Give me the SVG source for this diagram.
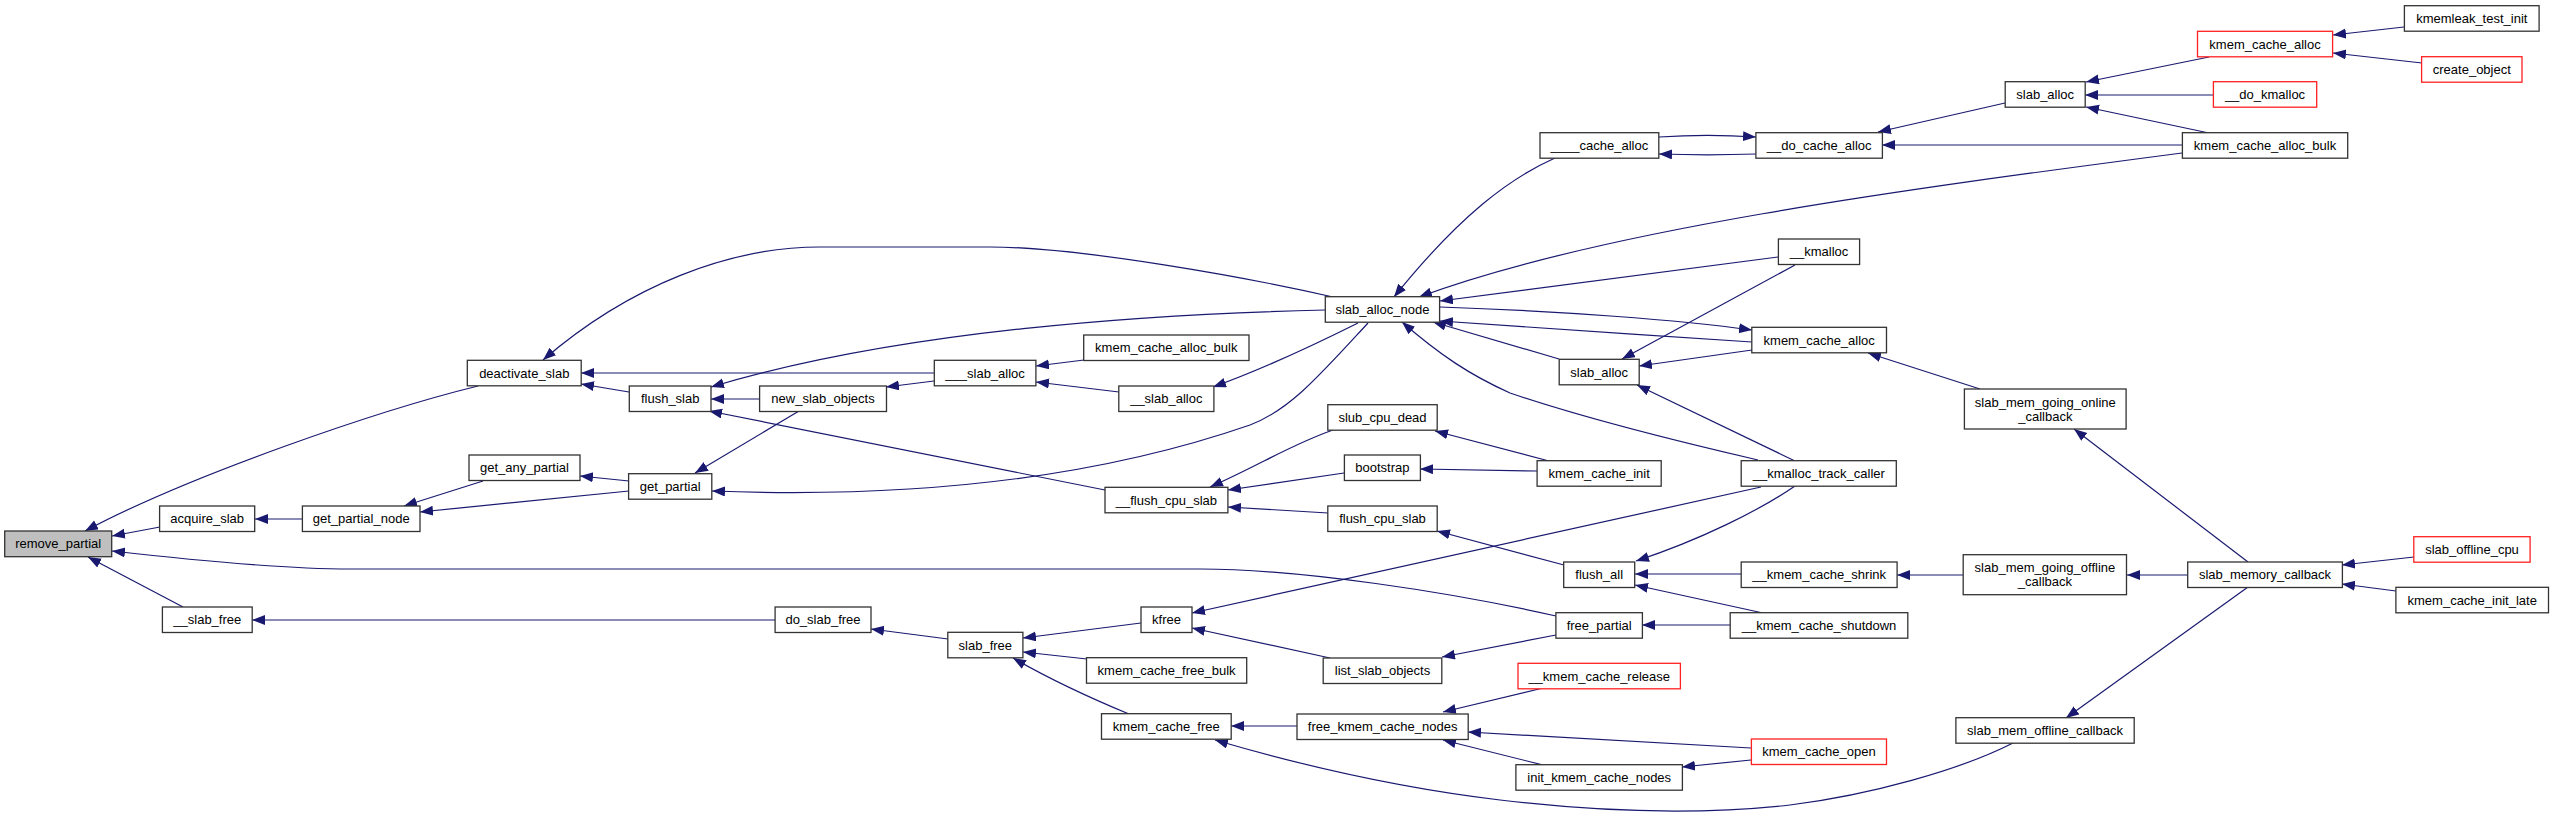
<svg xmlns="http://www.w3.org/2000/svg" width="2553" height="819" viewBox="0 0 2553 819">
<style>
.n rect{fill:#fff;stroke:#333;stroke-width:1.3}
.n.r rect{stroke:#ff2020}
.n.g rect{fill:#bfbfbf}
text{font-family:"Liberation Sans",Arial,Helvetica,sans-serif;font-size:13px;text-anchor:middle;fill:#000}
#edges path{fill:none;stroke:#191970;stroke-width:1.2;marker-end:url(#a)}
</style>
<defs>
<marker id="a" markerUnits="userSpaceOnUse" markerWidth="14" markerHeight="11" refX="13" refY="5" orient="auto"><path d="M0,0 L13,5 L0,10 z" fill="#191970"/></marker>
</defs>
<rect width="2553" height="819" fill="#fff"/>
<g id="edges">
<path d="M478,386 C380,410 190,475 85,531"/>
<path d="M160,527 L112,536"/>
<path d="M1556,616 C1450,592 1300,569 1200,569 L350,569 C290,569 200,561 112,551"/>
<path d="M183,607 L88,557"/>
<path d="M302,519 L255,519"/>
<path d="M483,481 L404,506"/>
<path d="M629,491 L420,512"/>
<path d="M629,481 L580,476"/>
<path d="M1333,297 C1250,278 1080,247 990,247 L820,247 C730,247 630,285 543,360"/>
<path d="M934,373 L581,373"/>
<path d="M629,392 L581,384"/>
<path d="M760,399 L711,399"/>
<path d="M1325,310 C1150,314 900,330 711,387"/>
<path d="M1105,490 L709,411"/>
<path d="M934,381 L886,387"/>
<path d="M1368,323 C1320,375 1290,410 1250,425 C1120,470 950,500 712,491"/>
<path d="M799,411 L695,473"/>
<path d="M1084,360 L1036,366"/>
<path d="M1119,392 L1036,382"/>
<path d="M1358,323 C1320,342 1260,370 1213,387"/>
<path d="M1333,430 C1290,445 1260,465 1210,487"/>
<path d="M1344,473 L1228,490"/>
<path d="M1328,513 L1228,507"/>
<path d="M1549,461 L1435,431"/>
<path d="M1537,471 L1420,469"/>
<path d="M1564,565 L1437,531"/>
<path d="M1795,486 C1760,510 1700,540 1636,561"/>
<path d="M1741,574 L1635,574"/>
<path d="M1763,613 L1635,585"/>
<path d="M1730,625 L1642,625"/>
<path d="M1556,635 L1442,657"/>
<path d="M1330,658 L1192,628"/>
<path d="M1761,487 L1192,613"/>
<path d="M1141,623 L1023,638"/>
<path d="M1087,659 L1023,652"/>
<path d="M1129,714 C1100,702 1060,685 1013,658"/>
<path d="M948,639 L871,629"/>
<path d="M775,620 L252,620"/>
<path d="M1297,726 L1231,726"/>
<path d="M2013,743 C1960,770 1870,795 1790,805 C1700,815 1600,812 1500,800 C1400,788 1300,765 1215,740"/>
<path d="M1543,688 L1443,712"/>
<path d="M1751,748 L1468,732"/>
<path d="M1543,765 L1443,740"/>
<path d="M1751,760 L1682,767"/>
<path d="M1555,158 C1510,178 1460,215 1394,297"/>
<path d="M1659,137 C1690,135 1725,135 1756,137"/>
<path d="M1756,154 C1725,155 1690,155 1659,154"/>
<path d="M2005,103 L1878,132"/>
<path d="M2182,145 L1882,145"/>
<path d="M2182,153 C1900,190 1600,230 1419,297"/>
<path d="M1778,257 L1440,301"/>
<path d="M1440,307 C1560,311 1680,320 1752,330"/>
<path d="M1752,342 C1650,335 1530,328 1440,321"/>
<path d="M1559,359 L1433,322"/>
<path d="M1758,460 C1650,435 1560,410 1510,393 C1470,375 1440,355 1402,322"/>
<path d="M1795,265 L1622,359"/>
<path d="M1752,350 L1639,366"/>
<path d="M1795,461 L1637,385"/>
<path d="M1980,389 L1868,353"/>
<path d="M2209,57 L2086,82"/>
<path d="M2213,95 L2085,95"/>
<path d="M2209,133 L2086,107"/>
<path d="M2404,27 L2333,35"/>
<path d="M2422,63 L2333,53"/>
<path d="M2248,562 L2074,429"/>
<path d="M2188,575 L2127,575"/>
<path d="M2248,587 L2066,718"/>
<path d="M2414,557 L2342,565"/>
<path d="M2396,591 L2342,584"/>
<path d="M1963,575 L1897,575"/>
</g>
<g id="remove_partial" class="n g"><rect x="4.7" y="531" width="107" height="25.7"/><text x="58.2" y="548">remove_partial</text></g>
<g id="acquire_slab" class="n"><rect x="159.6" y="506" width="95.1" height="25.5"/><text x="207.2" y="523.2">acquire_slab</text></g>
<g id="get_partial_node" class="n"><rect x="302.4" y="506" width="117.6" height="25.5"/><text x="361.2" y="523.2">get_partial_node</text></g>
<g id="__slab_free" class="n"><rect x="162.4" y="607" width="89.8" height="25.5"/><text x="207.3" y="624.2">__slab_free</text></g>
<g id="deactivate_slab" class="n"><rect x="467.3" y="360.3" width="113.9" height="25.5"/><text x="524.3" y="377.5">deactivate_slab</text></g>
<g id="get_any_partial" class="n"><rect x="469" y="455" width="111" height="25.5"/><text x="524.5" y="472.2">get_any_partial</text></g>
<g id="flush_slab" class="n"><rect x="629.3" y="386" width="81.7" height="25.5"/><text x="670.2" y="403.2">flush_slab</text></g>
<g id="get_partial" class="n"><rect x="628.6" y="473.7" width="83.2" height="25.5"/><text x="670.2" y="490.9">get_partial</text></g>
<g id="new_slab_objects" class="n"><rect x="759.6" y="386" width="126.9" height="25.5"/><text x="823" y="403.2">new_slab_objects</text></g>
<g id="do_slab_free" class="n"><rect x="775.1" y="607" width="95.9" height="25.5"/><text x="823" y="624.2">do_slab_free</text></g>
<g id="___slab_alloc" class="n"><rect x="934.3" y="360.3" width="101.6" height="25.5"/><text x="985.1" y="377.5">___slab_alloc</text></g>
<g id="slab_free" class="n"><rect x="947.8" y="632.3" width="75.1" height="25.5"/><text x="985.3" y="649.5">slab_free</text></g>
<g id="kmem_cache_alloc_bulk_1" class="n"><rect x="1083.7" y="335" width="165.3" height="25.5"/><text x="1166.3" y="352.2">kmem_cache_alloc_bulk</text></g>
<g id="__slab_alloc" class="n"><rect x="1118.8" y="386" width="95.1" height="25.5"/><text x="1166.3" y="403.2">__slab_alloc</text></g>
<g id="__flush_cpu_slab" class="n"><rect x="1105" y="487.3" width="122.9" height="25.5"/><text x="1166.4" y="504.5">__flush_cpu_slab</text></g>
<g id="kfree" class="n"><rect x="1141" y="607" width="51" height="25.5"/><text x="1166.5" y="624.2">kfree</text></g>
<g id="kmem_cache_free_bulk" class="n"><rect x="1086.5" y="657.7" width="160.2" height="25.5"/><text x="1166.6" y="674.9">kmem_cache_free_bulk</text></g>
<g id="kmem_cache_free" class="n"><rect x="1101.5" y="713.7" width="129.7" height="25.5"/><text x="1166.3" y="730.9">kmem_cache_free</text></g>
<g id="slab_alloc_node" class="n"><rect x="1325.3" y="296.7" width="114.3" height="25.5"/><text x="1382.4" y="313.9">slab_alloc_node</text></g>
<g id="slub_cpu_dead" class="n"><rect x="1327.8" y="404.7" width="109.4" height="25.5"/><text x="1382.5" y="421.9">slub_cpu_dead</text></g>
<g id="bootstrap" class="n"><rect x="1344.4" y="455" width="76" height="25.5"/><text x="1382.4" y="472.2">bootstrap</text></g>
<g id="flush_cpu_slab" class="n"><rect x="1327.8" y="506" width="109.4" height="25.5"/><text x="1382.5" y="523.2">flush_cpu_slab</text></g>
<g id="list_slab_objects" class="n"><rect x="1323.2" y="658" width="118.6" height="25.5"/><text x="1382.5" y="675.2">list_slab_objects</text></g>
<g id="free_kmem_cache_nodes" class="n"><rect x="1297" y="714" width="171.2" height="25.5"/><text x="1382.6" y="731.2">free_kmem_cache_nodes</text></g>
<g id="____cache_alloc" class="n"><rect x="1540" y="132.7" width="118.8" height="25.5"/><text x="1599.4" y="149.9">____cache_alloc</text></g>
<g id="slab_alloc_2" class="n"><rect x="1559.2" y="359.3" width="80" height="25.5"/><text x="1599.2" y="376.5">slab_alloc</text></g>
<g id="kmem_cache_init" class="n"><rect x="1537.1" y="460.7" width="124.1" height="25.5"/><text x="1599.2" y="477.9">kmem_cache_init</text></g>
<g id="flush_all" class="n"><rect x="1563.7" y="562" width="71" height="25.5"/><text x="1599.2" y="579.2">flush_all</text></g>
<g id="free_partial" class="n"><rect x="1555.9" y="612.7" width="86.5" height="25.5"/><text x="1599.2" y="629.9">free_partial</text></g>
<g id="__kmem_cache_release" class="n r"><rect x="1518" y="663.3" width="162.4" height="25.5"/><text x="1599.2" y="680.5">__kmem_cache_release</text></g>
<g id="init_kmem_cache_nodes" class="n"><rect x="1515.9" y="764.7" width="166.5" height="25.5"/><text x="1599.2" y="781.9">init_kmem_cache_nodes</text></g>
<g id="__do_cache_alloc" class="n"><rect x="1755.9" y="132.7" width="126.5" height="25.5"/><text x="1819.2" y="149.9">__do_cache_alloc</text></g>
<g id="__kmalloc" class="n"><rect x="1778.4" y="239" width="81.2" height="25.5"/><text x="1819" y="256.2">__kmalloc</text></g>
<g id="kmem_cache_alloc_2" class="n"><rect x="1751.8" y="327.3" width="134.7" height="25.5"/><text x="1819.2" y="344.5">kmem_cache_alloc</text></g>
<g id="__kmalloc_track_caller" class="n"><rect x="1741.2" y="460.7" width="155.1" height="25.5"/><text x="1818.8" y="477.9">__kmalloc_track_caller</text></g>
<g id="__kmem_cache_shrink" class="n"><rect x="1741.2" y="562" width="155.9" height="25.5"/><text x="1819.2" y="579.2">__kmem_cache_shrink</text></g>
<g id="__kmem_cache_shutdown" class="n"><rect x="1730.2" y="612.7" width="177.6" height="25.5"/><text x="1819" y="629.9">__kmem_cache_shutdown</text></g>
<g id="kmem_cache_open" class="n r"><rect x="1751.4" y="739" width="135.1" height="25.5"/><text x="1819" y="756.2">kmem_cache_open</text></g>
<g id="slab_mem_going_online_callback" class="n"><rect x="1964.4" y="389" width="161.7" height="40"/><text x="2045.3" y="406.5">slab_mem_going_online</text><text x="2045.3" y="420.5">_callback</text></g>
<g id="slab_mem_going_offline_callback" class="n"><rect x="1963.2" y="554.7" width="163.3" height="40"/><text x="2044.9" y="572.2">slab_mem_going_offline</text><text x="2044.9" y="586.2">_callback</text></g>
<g id="slab_mem_offline_callback" class="n"><rect x="1955.9" y="717.7" width="178.3" height="25.5"/><text x="2045" y="734.9">slab_mem_offline_callback</text></g>
<g id="slab_alloc_1" class="n"><rect x="2005.2" y="81.7" width="80" height="25.5"/><text x="2045.2" y="98.9">slab_alloc</text></g>
<g id="kmem_cache_alloc_1" class="n r"><rect x="2197.5" y="31.3" width="135.1" height="25.5"/><text x="2265" y="48.5">kmem_cache_alloc</text></g>
<g id="__do_kmalloc" class="n r"><rect x="2213.4" y="81.7" width="103.3" height="25.5"/><text x="2265" y="98.9">__do_kmalloc</text></g>
<g id="kmem_cache_alloc_bulk_2" class="n"><rect x="2182.4" y="132.7" width="165.3" height="25.5"/><text x="2265" y="149.9">kmem_cache_alloc_bulk</text></g>
<g id="slab_memory_callback" class="n"><rect x="2187.7" y="562" width="154.7" height="25.5"/><text x="2265" y="579.2">slab_memory_callback</text></g>
<g id="kmemleak_test_init" class="n"><rect x="2404.4" y="5.7" width="134.7" height="25.5"/><text x="2471.8" y="22.9">kmemleak_test_init</text></g>
<g id="create_object" class="n r"><rect x="2421.6" y="56.7" width="100.4" height="25.5"/><text x="2471.8" y="73.9">create_object</text></g>
<g id="slab_offline_cpu" class="n r"><rect x="2413.8" y="536.7" width="116.3" height="25.5"/><text x="2472" y="553.9">slab_offline_cpu</text></g>
<g id="kmem_cache_init_late" class="n"><rect x="2395.9" y="587.3" width="152.6" height="25.5"/><text x="2472.2" y="604.5">kmem_cache_init_late</text></g>
</svg>
